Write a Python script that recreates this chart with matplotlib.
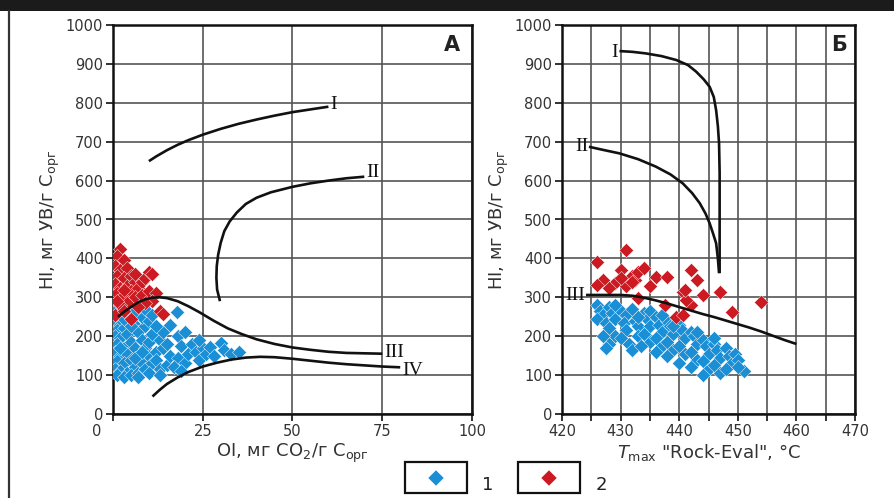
import numpy as np
import matplotlib
matplotlib.use("Agg")
import matplotlib.pyplot as plt
from matplotlib.patches import Rectangle
from matplotlib.lines import Line2D
from matplotlib.transforms import ScaledTranslation

plt.rcParams['font.family'] = ['DejaVu Sans']
plt.rcParams['mathtext.fontset'] = 'dejavusans'

BLUE = '#1a8fd6'
RED = '#cc1a22'

# ---------------- Panel A data (OI, HI) ----------------
a_blue_oi = [0.5, 1, 2, 1.5, 3, 0.5, 2, 4, 1, 3, 5, 0.5, 2, 4, 6, 1, 3, 5, 7, 0.5, 2, 4, 6, 8, 1, 3, 5, 7, 9,
             0.5, 2, 4, 6, 8, 10, 1, 3, 5, 7, 9, 11, 12, 10, 11, 9, 8, 13, 14, 12, 13, 15, 16, 15, 14, 17.7,
             16, 18, 19, 18, 17, 20, 21, 22, 20, 23, 24, 25, 26, 27, 28, 30, 31, 33, 35, 6, 4, 10, 12, 9,
             7, 10, 13, 11, 19, 24, 3, 5, 2, 6, 8]
a_blue_hi = [285, 270, 290, 255, 275, 240, 230, 260, 215, 220, 245, 200, 195, 205, 230, 180, 170, 185, 210,
             160, 150, 155, 170, 190, 135, 130, 140, 150, 170, 115, 110, 105, 120, 130, 150, 100, 95, 100,
             105, 115, 130, 160, 185, 205, 225, 250, 190, 170, 140, 115, 125, 150, 180, 210, 263, 230, 200,
             175, 145, 120, 130, 155, 180, 210, 160, 140, 170, 155, 172, 150, 182, 165, 155, 160, 265, 280,
             240, 225, 270, 95, 105, 100, 255, 110, 190, 245, 225, 170, 145, 160]
a_red_oi = [2, 1, 3, 0.5, 2, 4, 1, 3, 5, 0.5, 2, 4, 6, 1, 3, 5, 7, 8, 9, 10, 11, 6, 8, 10, 12, 11, 9, 13,
            14, 4, 2, 0.5, 3, 5, 7, 6, 3, 1]
a_red_hi = [425, 405, 395, 380, 370, 375, 355, 350, 355, 335, 325, 330, 340, 310, 305, 315, 325, 340, 350,
            365, 360, 300, 305, 315, 310, 290, 285, 265, 258, 285, 280, 255, 265, 245, 275, 360, 320, 290]

a_I_oi = [10, 12, 15, 18, 21, 25, 30, 35, 40, 45, 50, 55, 60]
a_I_hi = [650, 662, 678, 692, 704, 718, 733, 746, 757, 767, 776, 783, 790]
a_II_oi = [29.8, 29.0, 28.8, 28.9, 29.3, 30.0, 31.0, 32.5, 34.5, 37, 40, 44, 50, 55, 60, 65, 70]
a_II_hi = [290, 320, 350, 380, 410, 440, 470, 495, 518, 540, 556, 570, 584, 593, 600, 606, 610]
a_III_oi = [1.4, 3, 5, 7, 9, 11, 13, 15, 18, 21, 24, 28, 32, 36, 40, 45, 50, 55, 60, 65, 70, 75]
a_III_hi = [250, 262, 275, 287, 295, 299, 300, 298, 290, 277, 262, 240, 220, 205, 192, 180, 171, 165, 160,
            157, 156, 155]
a_IV_oi = [11, 13, 15, 18, 21, 25, 29, 33, 37, 41, 45, 50, 55, 60, 65, 70, 75, 80]
a_IV_hi = [45, 62, 77, 94, 108, 122, 132, 140, 145, 147, 146, 142, 137, 132, 128, 125, 122, 120]

# ---------------- Panel Б data (Tmax, HI) ----------------
b_blue_t = [426, 426.5, 427, 426, 427.5, 428, 428.5, 429, 428, 429, 428, 427.5, 430, 431, 430.5, 431, 430,
            431.5, 432, 432.5, 433, 433, 432, 434, 434.5, 435, 435, 434, 435, 433.5, 436, 436.5, 437, 436,
            437, 436, 438, 438.5, 439, 438, 439, 438, 440, 440.5, 441, 440, 441, 440, 442, 442.5, 443, 442,
            443, 442, 444, 444.5, 445, 444, 445, 444, 446, 446.5, 447, 446, 447, 448, 448.5, 449, 448, 449.5,
            450, 451, 450, 446, 443, 439, 437, 433, 429, 427]
b_blue_hi = [280, 265, 255, 245, 235, 275, 260, 245, 220, 200, 180, 170, 265, 255, 235, 215, 195, 180, 165,
             240, 225, 200, 270, 260, 245, 265, 225, 205, 185, 175, 250, 230, 210, 195, 175, 160, 240, 225,
             205, 185, 165, 150, 230, 215, 195, 175, 155, 130, 210, 200, 180, 160, 140, 120, 190, 175, 155,
             135, 115, 100, 180, 165, 145, 125, 105, 170, 150, 130, 115, 155, 140, 110, 120, 195, 210, 225,
             255, 250, 280, 200]
b_red_t = [426, 431, 427, 426, 430, 429, 432, 432.5, 433, 431, 432, 430, 433, 436, 438, 442, 443, 440.6,
           444, 447, 442, 439.5, 440.6, 437.5, 449, 454, 441.2, 441, 434, 428, 435]
b_red_hi = [391, 421, 344, 331, 370, 336, 355, 345, 365, 330, 340, 350, 298, 353, 353, 370, 344, 314, 306,
            314, 280, 250, 254, 280, 263, 289, 293, 320, 375, 325, 330]

b_I_t = [429.8, 432, 434.3, 437, 439.5, 441.5, 442.9, 444.2, 445.2, 445.9, 446.3, 446.6, 446.8, 446.9,
         446.9, 446.9, 446.9]
b_I_hi = [933, 931, 927, 920, 910, 897, 880, 860, 841, 815, 781, 740, 696, 620, 540, 460, 362]
b_II_t = [424.6, 427, 429.8, 433, 436, 438.5, 440.6, 442.2, 443.5, 444.5, 445.2, 445.8, 446.3, 446.6, 446.8]
b_II_hi = [687, 679, 670, 655, 636, 616, 593, 568, 542, 515, 490, 463, 439, 400, 362]
b_III_t = [424.1, 426, 428, 430, 432, 434, 436, 438, 440, 442, 444, 446, 448, 450, 452, 454, 456, 458, 460]
b_III_hi = [306, 306, 306, 306, 304, 299, 292, 284, 275, 266, 257, 249, 240, 231, 222, 212, 201, 190, 180]

a_xticks = [0, 25, 50, 75, 100]
a_xticklabels = ['0', '25', '50', '75', '100']
b_xticks = [420, 425, 430, 435, 440, 445, 450, 455, 460, 465, 470]
b_xticklabels = ['420', '', '430', '', '440', '', '450', '', '460', '', '470']
yticks = [0, 100, 200, 300, 400, 500, 600, 700, 800, 900, 1000]
legend_labels = ['1', '2']

W, H = 895, 498
fig = plt.figure(figsize=(W / 100, H / 100), dpi=100)
fig.patch.set_facecolor('white')

axA = fig.add_axes([113 / W, 1 - 414 / H, (472 - 113) / W, (414 - 25) / H])
axB = fig.add_axes([562 / W, 1 - 414 / H, (855 - 562) / W, (414 - 25) / H])

ylabel = 'HI, мг УВ/г C$_{\\mathregular{орг}}$'

for ax in (axA, axB):
    ax.set_ylim(0, 1000)
    ax.set_yticks(yticks)
    ax.set_yticklabels([str(v) for v in yticks])
    ax.grid(True, color='#555555', lw=1.2)
    ax.set_axisbelow(True)
    for s in ax.spines.values():
        s.set_linewidth(1.8)
        s.set_color('#111111')
    ax.tick_params(direction='out', length=5, width=1.3, color='#222222',
                   labelsize=10.5, labelcolor='#333333', pad=2)
    ax.set_ylabel(ylabel, fontsize=13, color='#333333', labelpad=3)

mk = dict(marker='D', s=52, edgecolors='white', linewidths=0.3, zorder=3)
line_kw = dict(color='#111111', lw=1.9, zorder=4, solid_capstyle='butt')
lab_kw = dict(family='Liberation Serif', fontsize=14, color='#111111', zorder=5, va='center')

# Panel A
axA.set_xlim(0, 100)
axA.set_xticks(a_xticks)
axA.set_xticklabels(a_xticklabels)
axA.scatter(a_blue_oi, a_blue_hi, color=BLUE, **mk)
axA.scatter(a_red_oi, a_red_hi, color=RED, **mk)
axA.plot(a_I_oi, a_I_hi, **line_kw)
axA.plot(a_II_oi, a_II_hi, **line_kw)
axA.plot(a_III_oi, a_III_hi, **line_kw)
axA.plot(a_IV_oi, a_IV_hi, **line_kw)
axA.text(60.5, 795, 'I', ha='left', **lab_kw)
axA.text(70.5, 620, 'II', ha='left', **lab_kw)
axA.text(75.5, 158, 'III', ha='left', **lab_kw)
axA.text(80.5, 113, 'IV', ha='left', **lab_kw)
axA.text(94.5, 948, 'А', ha='center', va='center', fontsize=15, fontweight='bold', color='#222222')
axA.set_xlabel('OI, мг CO$_{\\mathregular{2}}$/г C$_{\\mathregular{орг}}$', fontsize=13,
               color='#333333', labelpad=2)
lbl0 = axA.get_xticklabels()[0]
lbl0.set_transform(lbl0.get_transform() + ScaledTranslation(-0.16, 0, fig.dpi_scale_trans))

# Panel Б
axB.set_xlim(420, 470)
axB.set_xticks(b_xticks)
axB.set_xticklabels(b_xticklabels)
axB.scatter(b_blue_t, b_blue_hi, color=BLUE, **mk)
axB.scatter(b_red_t, b_red_hi, color=RED, **mk)
axB.plot(b_I_t, b_I_hi, **line_kw)
axB.plot(b_II_t, b_II_hi, **line_kw)
axB.plot(b_III_t, b_III_hi, **line_kw)
axB.text(429.5, 930, 'I', ha='right', **lab_kw)
axB.text(424.5, 688, 'II', ha='right', **lab_kw)
axB.text(424.0, 305, 'III', ha='right', **lab_kw)
axB.text(467.2, 948, 'Б', ha='center', va='center', fontsize=15, fontweight='bold', color='#222222')
axB.set_xlabel('$T_{\\mathregular{max}}$ "Rock-Eval", °C', fontsize=13, color='#333333', labelpad=2)

# Frame decorations
fig.add_artist(Rectangle((0, 1 - 11 / H), 1, 11 / H, transform=fig.transFigure,
                         facecolor='#1b1b1b', edgecolor='none'))
fig.add_artist(Line2D([9.5 / W, 9.5 / W], [0, 1 - 11 / H], transform=fig.transFigure,
                      color='#333333', lw=1.6))

# Legend
leg_colors = [BLUE, RED]
box_x = [405, 518]
for bx, c, lab in zip(box_x, leg_colors, legend_labels):
    fig.add_artist(Rectangle((bx / W, 5 / H), 62 / W, 31 / H, transform=fig.transFigure,
                             facecolor='white', edgecolor='#111111', lw=1.6))
    fig.add_artist(Line2D([(bx + 31) / W], [(498 - 478) / H], transform=fig.transFigure,
                          marker='D', markersize=8.5, color=c, markeredgecolor='white',
                          markeredgewidth=0.3, linestyle='none'))
    fig.text((bx + 83) / W, (498 - 485) / H, lab, ha='center', va='center', fontsize=13,
             color='#222222')

fig.savefig('out.png', dpi=100, facecolor='white')
